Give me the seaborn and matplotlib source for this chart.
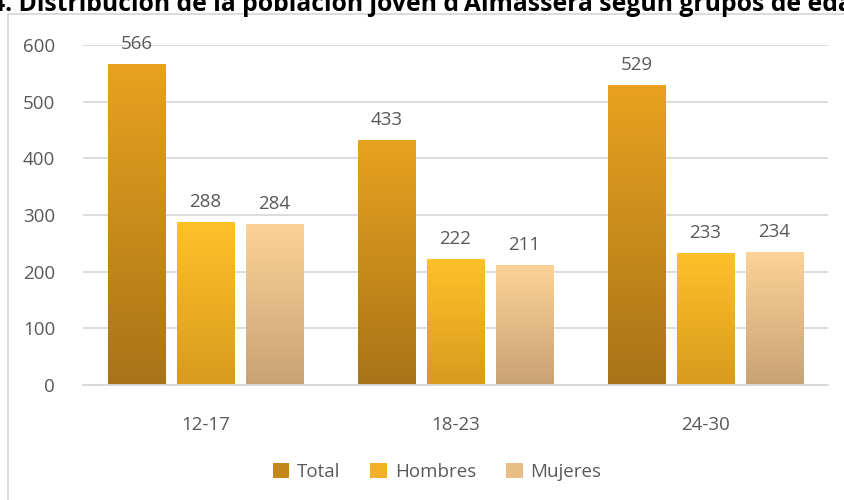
import numpy as np
import pandas as pd
import matplotlib
matplotlib.use("Agg")
import matplotlib.pyplot as plt
import seaborn as sns
from matplotlib.patches import Rectangle, Patch

# Data
age_groups = ["12-17", "18-23", "24-30"]
series_names = ["Total", "Hombres", "Mujeres"]
total = [566, 433, 529]
hombres = [288, 222, 233]
mujeres = [284, 211, 234]

title = "4. Distribución de la población joven d'Almassera según grupos de edad"

# gradient colours (top, bottom) per series
grad = {
    "Total": ("#E9A21F", "#A87418"),
    "Hombres": ("#FFC129", "#D99A1E"),
    "Mujeres": ("#FDD298", "#C9A274"),
}
legend_colors = {"Total": "#C4871B", "Hombres": "#F2B024", "Mujeres": "#E8BE87"}

df = pd.DataFrame({
    "grupo": age_groups * 3,
    "serie": ["Total"] * 3 + ["Hombres"] * 3 + ["Mujeres"] * 3,
    "valor": total + hombres + mujeres,
})

sns.set_style("white")
plt.rcParams["font.family"] = ["Open Sans", "DejaVu Sans"]

fig = plt.figure(figsize=(8.45, 5.0), dpi=100)
ax = fig.add_axes([83 / 845, 1 - 385 / 500, (828 - 83) / 845, 340 / 500])

sns.barplot(data=df, x="grupo", y="valor", hue="serie", hue_order=series_names,
            palette=legend_colors, width=0.828, gap=0.17, ax=ax, legend=False,
            saturation=1)

ax.set_xlim(-0.49, 2.49)
ax.set_ylim(0, 600)
ax.set_yticks(range(0, 601, 100))
ax.yaxis.grid(True, color="#D9D9D9", linewidth=1.3)
ax.set_axisbelow(True)
for s in ["left", "right", "top"]:
    ax.spines[s].set_visible(False)
ax.spines["bottom"].set_color("#D9D9D9")
ax.spines["bottom"].set_linewidth(1.3)
ax.tick_params(axis="both", length=0, labelsize=13.5, colors="#595959")
ax.tick_params(axis="y", pad=20)
ax.tick_params(axis="x", pad=22)
ax.set_xlabel("")
ax.set_ylabel("")

# gradient fill on each bar
for name, container in zip(series_names, ax.containers):
    top, bottom = grad[name]
    cmap = matplotlib.colors.LinearSegmentedColormap.from_list(name, [bottom, top])
    for bar in container:
        x0, y0 = bar.get_x(), bar.get_y()
        w, h = bar.get_width(), bar.get_height()
        img = ax.imshow(np.linspace(0, 1, 256).reshape(-1, 1), cmap=cmap,
                        origin="lower", aspect="auto",
                        extent=[x0, x0 + w, y0, y0 + h], zorder=bar.get_zorder() + 0.1)
        img.set_clip_path(bar)
    ax.bar_label(container, padding=8, fontsize=13.5, color="#595959")

ax.set_xlim(-0.49, 2.49)
ax.set_ylim(0, 600)

# legend
handles = [Patch(facecolor=legend_colors[n], edgecolor="none") for n in series_names]
fig.legend(handles, series_names, loc="center", bbox_to_anchor=(437 / 845, 1 - 472 / 500),
           ncol=3, frameon=False, fontsize=13.5, labelcolor="#595959",
           handlelength=0.9, handleheight=0.9, handletextpad=0.4, columnspacing=1.6)

# chart border
fig.patches.append(Rectangle((8 / 845, -0.1), 1.1, 1 - 14 / 500 + 0.1, transform=fig.transFigure,
                             fill=False, edgecolor="#D9D9D9", linewidth=1.3))

# title (cut off at the top and right like the reference)
fig.text(-9 / 845, 1 - 11 / 500, title, fontsize=17.8, fontweight="bold",
         color="#000000", ha="left", va="baseline")

fig.savefig("out.png", dpi=100)
